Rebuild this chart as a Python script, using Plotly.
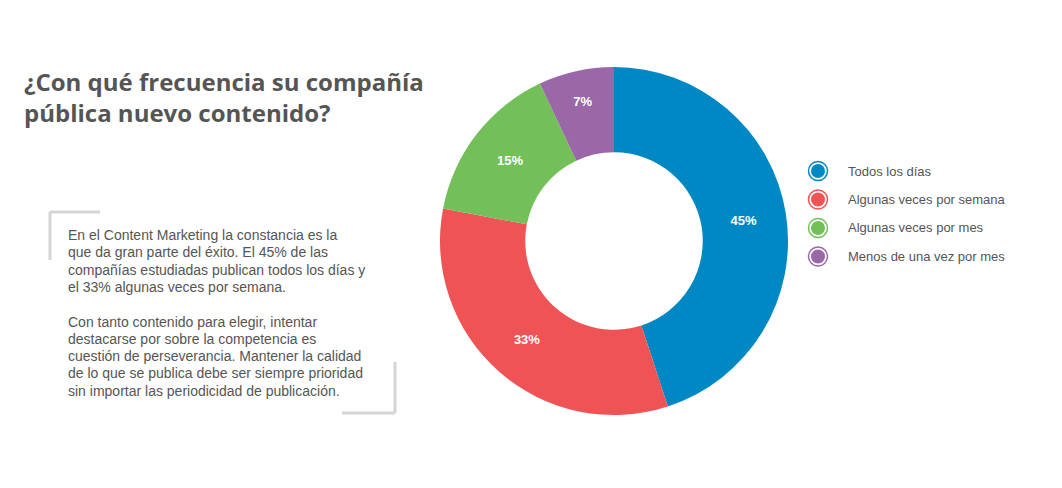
import plotly.graph_objects as go

categories = ["Todos los días", "Algunas veces por semana", "Algunas veces por mes", "Menos de una vez por mes"]
values = [45, 33, 15, 7]
colors = ["#0088C5", "#EF5355", "#73C05A", "#9A67A8"]

title_lines = ["¿Con qué frecuencia su compañía", "pública nuevo contenido?"]
body_lines = [
    "En el Content Marketing la constancia es la",
    "que da gran parte del éxito. El 45% de las",
    "compañías estudiadas publican todos los días y",
    "el 33% algunas veces por semana.",
    "",
    "Con tanto contenido para elegir, intentar",
    "destacarse por sobre la competencia es",
    "cuestión de perseverancia. Mantener la calidad",
    "de lo que se publica debe ser siempre prioridad",
    "sin importar las periodicidad de publicación.",
]

W, H = 1062, 488

def px(x):
    return x / W

def py(y):
    return 1 - y / H

fig = go.Figure()
fig.add_trace(go.Pie(
    labels=categories,
    values=values,
    marker=dict(colors=colors, line=dict(width=0)),
    hole=0.51,
    sort=False,
    direction="clockwise",
    rotation=0,
    textinfo="percent",
    texttemplate="<b>%{percent:.0%}</b>",
    textposition="inside",
    insidetextorientation="horizontal",
    textfont=dict(family="Liberation Sans, Arial", size=13, color="white"),
    showlegend=False,
    domain=dict(x=[px(440), px(788)], y=[py(415), py(67)]),
    hoverinfo="label+percent",
))

shapes = []
annotations = []

# Title (single block)
annotations.append(dict(
    x=px(22), y=py(97), xref="paper", yref="paper",
    xanchor="left", yanchor="middle", showarrow=False, align="left",
    text="<br>".join("<b>" + l + "</b>" for l in title_lines),
    font=dict(family="Open Sans", size=24, color="#555555"),
))

# Body text
for i, line in enumerate(body_lines):
    if not line:
        continue
    annotations.append(dict(
        x=px(66), y=py(235 + i * 17.3), xref="paper", yref="paper",
        xanchor="left", yanchor="middle", showarrow=False,
        text=line,
        font=dict(family="Liberation Sans, Arial", size=14, color="#555555"),
    ))

# Brackets
bracket = dict(color="#D5D5D5", width=3)
shapes.append(dict(type="line", xref="paper", yref="paper", x0=px(50), y0=py(212), x1=px(100), y1=py(212), line=bracket))
shapes.append(dict(type="line", xref="paper", yref="paper", x0=px(50), y0=py(212), x1=px(50), y1=py(260), line=bracket))
shapes.append(dict(type="line", xref="paper", yref="paper", x0=px(395), y0=py(362), x1=px(395), y1=py(413), line=bracket))
shapes.append(dict(type="line", xref="paper", yref="paper", x0=px(342), y0=py(413), x1=px(395), y1=py(413), line=bracket))

# Legend
for i, (cat, col) in enumerate(zip(categories, colors)):
    cy = 171 + i * 28.5
    cx = 818
    r_out, r_in = 9.5, 7
    shapes.append(dict(type="circle", xref="paper", yref="paper",
                       x0=px(cx - r_out), x1=px(cx + r_out), y0=py(cy + r_out), y1=py(cy - r_out),
                       line=dict(color=col, width=1.5), fillcolor="white"))
    shapes.append(dict(type="circle", xref="paper", yref="paper",
                       x0=px(cx - r_in), x1=px(cx + r_in), y0=py(cy + r_in), y1=py(cy - r_in),
                       line=dict(width=0), fillcolor=col))
    annotations.append(dict(
        x=px(846), y=py(cy), xref="paper", yref="paper",
        xanchor="left", yanchor="middle", showarrow=False,
        text=cat,
        font=dict(family="Liberation Sans, Arial", size=13, color="#555555"),
    ))

fig.update_layout(
    width=W, height=H,
    margin=dict(l=0, r=0, t=0, b=0),
    paper_bgcolor="white",
    plot_bgcolor="white",
    shapes=shapes,
    annotations=annotations,
)

fig.write_html("out.html", config={"displayModeBar": False},
               post_script="document.body.style.margin='0';document.body.style.padding='0';")
